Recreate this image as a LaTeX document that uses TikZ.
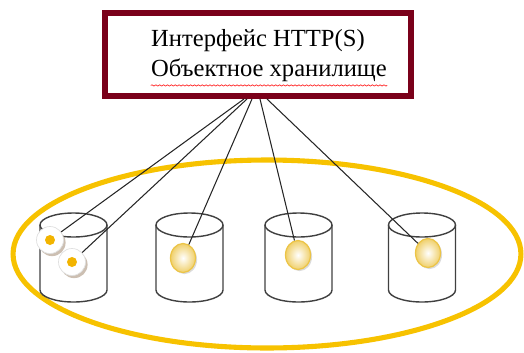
\documentclass[tikz,border=0pt]{standalone}
\usepackage{fontspec}
\setmainfont{Liberation Serif}
\newfontfamily\boxfont{Liberation Serif}
\usepackage{tikz}
\usetikzlibrary{positioning,shapes.geometric,shadows}
\usetikzlibrary{decorations.pathmorphing}
\definecolor{frameRed}{RGB}{122,0,26}
\definecolor{ringGold}{RGB}{247,194,0}
\definecolor{eggGold}{RGB}{236,196,70}
\definecolor{eggDot}{RGB}{242,180,0}
\tikzset{
    boxframe/.style={
        draw=frameRed,
        line width=3.4pt,
        fill=white,
        minimum width=6.12cm,
        minimum height=1.66cm
    },
    % wiring from the interface down to the objects
    wire/.style={
        line width=0.6pt,
        black!85
    },
    ringline/.style={
        line width=2.9pt,
        ringGold
    },
    drumline/.style={
        line width=0.8pt,
        black!75
    },
    goldegg/.style={
        ellipse,
        minimum width=0.5cm,
        minimum height=0.58cm,
        inner sep=0pt,
        draw=eggGold,
        line width=0.7pt,
        shading=radial,
        inner color=white,
        outer color=eggGold!80,
        drop shadow={shadow xshift=0.9pt,shadow yshift=-0.9pt,fill=black!35,opacity=0.4}
    },
    whiteegg/.style={
        circle,
        minimum size=0.54cm,
        inner sep=0pt,
        draw=black!12,
        fill=white,
        drop shadow={shadow xshift=1.2pt,shadow yshift=-1.5pt,fill=brown!40!gray,opacity=0.5}
    },
    squiggle/.style={
        red!85,
        line width=0.4pt,
        decorate,
        decoration={snake,amplitude=0.35pt,segment length=2.2pt}
    }
}
\begin{document}
\begin{tikzpicture}[x=0.02cm,y=-0.02cm]
\useasboundingbox (0,0) rectangle (524,352);

% кольцо хранилища
\draw[ringline] (267,254) ellipse (5.08cm and 1.88cm);

% диски
\foreach \cx in {73.5,189.5,298.5,422}{
    \draw[drumline] (\cx,225) ellipse (0.67cm and 0.24cm);
    \draw[drumline] ({\cx-33.5},225) -- ({\cx-33.5},290)
        arc[start angle=180,end angle=360,x radius=0.67cm,y radius=0.24cm]
        -- ({\cx+33.5},225);
}

% interface box
\node[boxframe] (api) at (258,54.5) {};
\node[align=left,inner sep=0pt,font=\boxfont\fontsize{14}{17}\selectfont] (title) at (269,56)
    {Интерфейс HTTP(S)\\Объектное хранилище};
\draw[squiggle] ([yshift=-0.06cm]title.south west) -- ([yshift=-0.06cm]title.south east);

% objects
\node[whiteegg] (egg1) at (50,240) {};
\node[whiteegg] (egg2) at (72,262) {};
\fill[eggDot] (egg1) circle (0.1cm) (egg2) circle (0.1cm);
\node[goldegg] (egg3) at (183,258) {};
\node[goldegg] (egg4) at (298,255) {};
\node[goldegg] (egg5) at (428,253) {};

\path
    ([xshift=-0.28cm]api.south) coordinate (tap1)
    ([xshift=-0.22cm]api.south) coordinate (tap2)
    ([xshift=-0.12cm]api.south) coordinate (tap3)
    ([xshift=0.04cm]api.south) coordinate (tap4)
    ([xshift=0.18cm]api.south) coordinate (tap5);

\draw[wire] (tap1) -- (egg1);
\draw[wire] (tap2) -- (egg2);
\draw[wire] (tap3) -- (egg3);
\draw[wire] (tap4) -- (egg4);
\draw[wire] (tap5) -- (egg5);
\end{tikzpicture}
\end{document}
